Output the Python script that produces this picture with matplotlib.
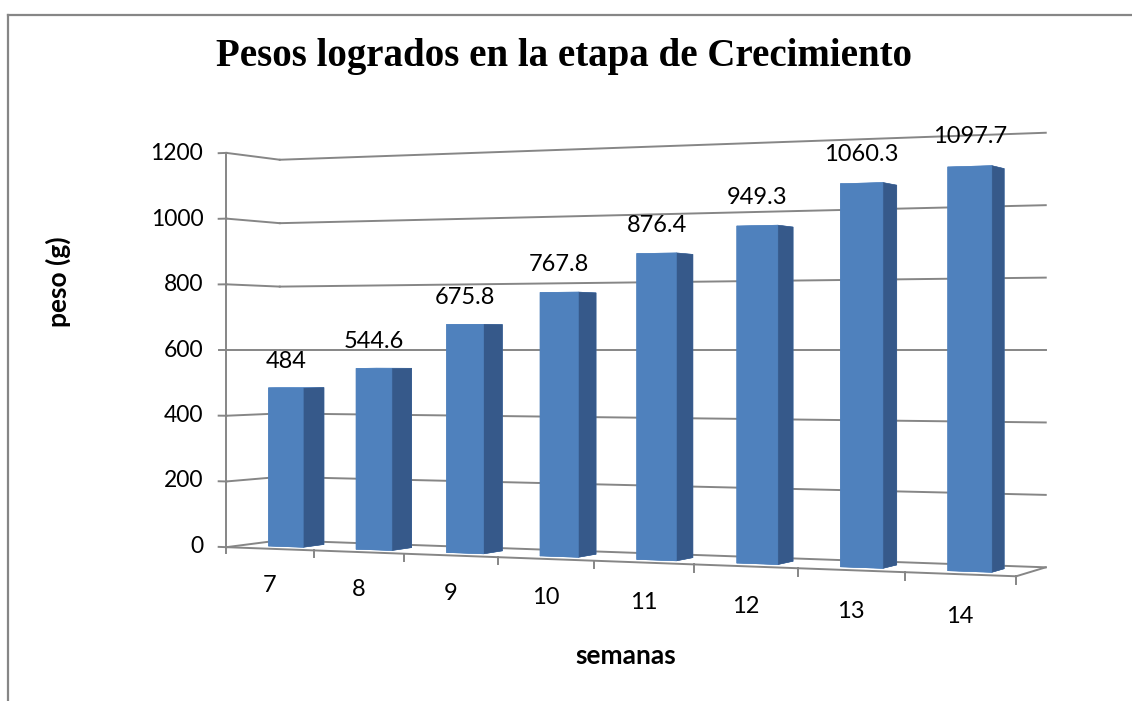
import matplotlib
matplotlib.use("Agg")
import matplotlib.pyplot as plt
from matplotlib.lines import Line2D
from mpl_toolkits.mplot3d import proj3d

# datos del grafico
semanas = ["7", "8", "9", "10", "11", "12", "13", "14"]
pesos = [484, 544.6, 675.8, 767.8, 876.4, 949.3, 1060.3, 1097.7]
etiquetas = ["484", "544.6", "675.8", "767.8", "876.4", "949.3", "1060.3", "1097.7"]
yticks = [0, 200, 400, 600, 800, 1000, 1200]

plt.rcParams['font.family'] = ['Lato', 'DejaVu Sans']

gris = '#868686'
n = len(pesos)

fig = plt.figure(figsize=(11.32, 7.01), dpi=100)

# ejes 3d con perspectiva (camara a la derecha, a media altura)
ax = fig.add_axes([0.1262, -0.1745, 0.8142, 1.3148], projection='3d',
                  computed_zorder=False)
ax.set_proj_type('persp', focal_length=0.515)
ax.view_init(elev=0, azim=-65.9)
ax.set_box_aspect((8, 1, 3.9))
ax.set_xlim(0, n)
ax.set_ylim(0, 1)
ax.set_zlim(0, 1200)
ax.set_axis_off()
ax.patch.set_alpha(0)

M = ax.get_proj()


def rotulo(x, y, z, s, **kw):
    # texto en la posicion proyectada del punto 3d
    px, py, _ = proj3d.proj_transform(x, y, z, M)
    ax.text2D(px, py, s, transform=ax.transData, **kw)


# paredes: lineas de division
for v in yticks:
    ax.plot([0, n], [1, 1], [v, v], color=gris, lw=1.4, zorder=1)
    ax.plot([0, 0], [0, 1], [v, v], color=gris, lw=1.4, zorder=1)
    ax.plot([-0.09, 0], [0, 0], [v, v], color=gris, lw=1.4, zorder=1)
    rotulo(-0.27, 0, v, str(v), ha='right', va='center', fontsize=16.5, zorder=4)

ax.plot([0, 0], [0, 0], [-18, 1200], color=gris, lw=1.4, zorder=3)
ax.plot([0, n], [0, 0], [0, 0], color=gris, lw=1.4, zorder=3)
ax.plot([n, n], [0, 1], [0, 0], color=gris, lw=1.4, zorder=3)
for i in range(1, n + 1):
    ax.plot([i, i], [0, 0], [0, -20], color=gris, lw=1.4, zorder=3)

# barras
caras = ['#4f81bd', '#6a98d0', '#4f81bd', '#4f81bd', '#4f81bd', '#36598a']
xs = [i + 0.3 for i in range(n)]
ax.bar3d(xs, [0.3] * n, [0] * n, 0.4, 0.4, pesos, color=caras * n,
         shade=False, edgecolor=caras * n, linewidth=0.4, zorder=2)

for i in range(n):
    rotulo(i + 0.5, 0.3, pesos[i] + 80, etiquetas[i], ha='center',
           va='center', fontsize=17, zorder=4)
    rotulo(i + 0.5, 0, -112, semanas[i], ha='center', va='center',
           fontsize=17, zorder=4)

# textos
fig.text(0.4978, 0.9187, 'Pesos logrados en la etapa de Crecimiento',
         family=['Liberation Serif', 'DejaVu Serif'], weight='bold',
         fontsize=28, ha='center', va='center')
fig.text(0.0512, 0.5977, 'peso (g)', rotation=90, weight='bold', fontsize=19,
         ha='center', va='center')
fig.text(0.553, 0.0642, 'semanas', weight='bold', fontsize=19,
         ha='center', va='center')

# borde del area del grafico
fig.add_artist(Line2D([0.0075, 0.0075], [0, 0.9786], color=gris, lw=1.6,
                      transform=fig.transFigure))
fig.add_artist(Line2D([0.0075, 1], [0.9786, 0.9786], color=gris, lw=1.6,
                      transform=fig.transFigure))

fig.savefig('out.png', dpi=100)
